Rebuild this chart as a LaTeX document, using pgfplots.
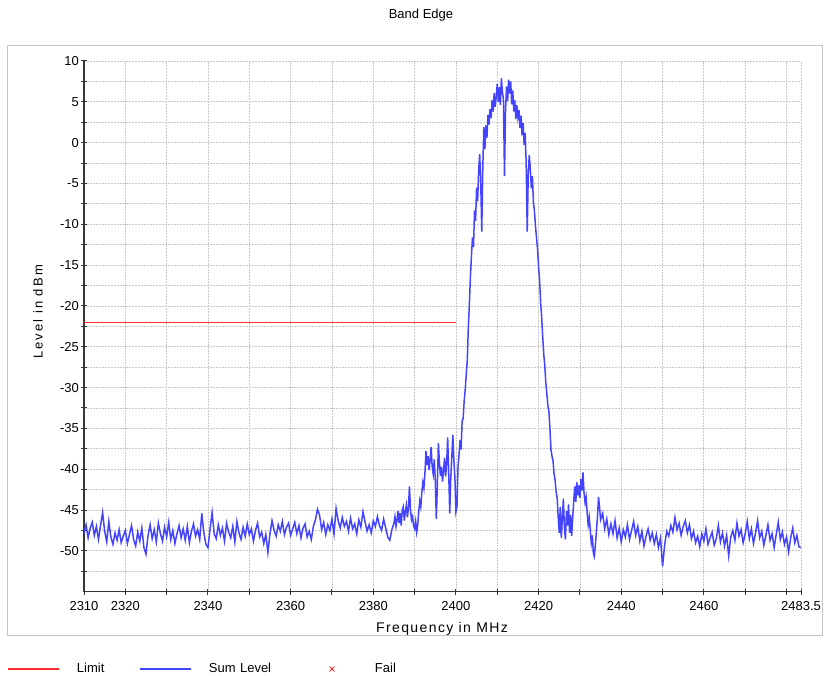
\documentclass[border=0pt]{standalone}
\usepackage{fontspec}
\setmainfont{Liberation Sans}
\usepackage{pgfplots}
\pgfplotsset{compat=1.18}
\definecolor{sumblue}{RGB}{68,68,255}
\definecolor{limred}{RGB}{255,45,45}
\definecolor{axisgray}{RGB}{55,55,55}
\definecolor{gridgray}{RGB}{200,200,200}
\definecolor{framegray}{RGB}{196,196,196}
\newcommand{\lblfont}{\fontsize{13bp}{15bp}\selectfont}
\begin{document}
\begin{tikzpicture}
\useasboundingbox (0,0) rectangle (825bp,676bp);
\draw[framegray, line width=1bp] (7bp,40bp) rectangle (822bp,630bp);
\begin{axis}[
  at={(84bp,84.3bp)}, anchor=south west,
  scale only axis, width=717bp, height=530.7bp,
  xmin=2310, xmax=2483.5, ymin=-55, ymax=10,
  axis x line*=bottom, axis y line*=left,
  axis line style={axisgray, line width=1.2bp},
  tick align=center,
  major tick length=6bp, minor tick length=6bp,
  tick style={axisgray, line width=1bp},
  xtick={2310,2320,2330,2340,2350,2360,2370,2380,2390,2400,2410,2420,2430,2440,2450,2460,2470,2480,2483.5},
  xticklabels={2310,2320,,2340,,2360,,2380,,2400,,2420,,2440,,2460,,,2483.5},
  ytick={-50,-45,-40,-35,-30,-25,-20,-15,-10,-5,0,5,10},
  minor ytick={-52.5,-47.5,-42.5,-37.5,-32.5,-27.5,-22.5,-17.5,-12.5,-7.5,-2.5,2.5,7.5},
  xmajorgrids, ymajorgrids, yminorgrids,
  major grid style={gridgray, dash pattern=on 1.5bp off 1.5bp, line width=0.8bp},
  minor grid style={gridgray, dash pattern=on 1.5bp off 1.5bp, line width=0.8bp},
  /pgf/number format/assume math mode=true,
  ticklabel style={font=\lblfont, text=black},
  xticklabel style={inner sep=0pt, anchor=north, yshift=-7bp},
  yticklabel style={inner sep=0pt, anchor=east, xshift=-2bp},
  title={Band Edge},
  title style={at={(0.470,1.0748)}, anchor=center, inner sep=0pt, yshift=0pt, font=\lblfont},
  xlabel={\addfontfeature{LetterSpace=10}Frequency in MHz},
  xlabel style={at={(0.4993,-0.0778)}, anchor=base, inner sep=0pt, font=\fontsize{14bp}{16bp}\selectfont},
  ylabel={\addfontfeature{LetterSpace=16}Level in dBm},
  ylabel style={at={(-0.0642,0.527)}, anchor=center, inner sep=0pt, rotate=0, font=\lblfont},
  legend columns=3,
  legend style={draw=none, fill=none, inner sep=0pt, at={(-0.10739,-0.14566)}, anchor=west,
    font=\lblfont, nodes={inner sep=0pt, align=left},
    /tikz/every odd column/.style={column sep=17.5bp}},
  legend image code/.code={\draw[#1] (0bp,0bp) -- (51bp,0bp);},
]
\addplot[limred, line width=1.3bp] coordinates {(2310,-22) (2400,-22)};
\addlegendentry[text width=62bp]{Limit}
\addplot[sumblue, line width=1.5bp] table {
2310.0 -47.9
2310.5 -46.8
2311.0 -48.4
2311.5 -47.2
2312.0 -46.5
2312.5 -48.1
2313.0 -47.0
2313.5 -48.6
2314.0 -46.9
2314.5 -45.3
2315.0 -47.6
2315.5 -48.9
2316.0 -46.4
2316.5 -48.3
2317.0 -49.2
2317.5 -47.8
2318.0 -48.7
2318.5 -47.4
2319.0 -49.0
2319.5 -48.2
2320.0 -47.5
2320.5 -49.1
2321.0 -48.0
2321.5 -46.9
2322.0 -48.6
2322.5 -49.4
2323.0 -47.7
2323.5 -48.8
2324.0 -47.2
2324.5 -49.6
2325.0 -50.4
2325.5 -48.1
2326.0 -46.8
2326.5 -48.5
2327.0 -47.4
2327.5 -48.9
2328.0 -46.6
2328.5 -47.9
2329.0 -48.8
2329.5 -47.1
2330.0 -48.3
2330.5 -46.5
2331.0 -48.6
2331.5 -47.5
2332.0 -49.1
2332.5 -47.9
2333.0 -46.9
2333.5 -48.4
2334.0 -47.3
2334.5 -48.7
2335.0 -47.0
2335.5 -49.0
2336.0 -47.6
2336.5 -46.7
2337.0 -48.2
2337.5 -47.4
2338.0 -48.6
2338.5 -45.4
2339.0 -47.8
2339.5 -49.2
2340.0 -49.6
2340.5 -47.3
2341.0 -45.3
2341.5 -47.9
2342.0 -48.5
2342.5 -46.8
2343.0 -48.1
2343.5 -47.2
2344.0 -48.8
2344.5 -46.6
2345.0 -47.7
2345.5 -48.4
2346.0 -47.0
2346.5 -48.9
2347.0 -46.4
2347.5 -47.8
2348.0 -48.6
2348.5 -47.1
2349.0 -48.2
2349.5 -46.7
2350.0 -48.0
2350.5 -47.3
2351.0 -48.8
2351.5 -47.5
2352.0 -46.6
2352.5 -48.3
2353.0 -47.7
2353.5 -49.1
2354.0 -48.0
2354.5 -50.2
2355.0 -47.9
2355.5 -46.3
2356.0 -47.5
2356.5 -48.2
2357.0 -46.8
2357.5 -47.6
2358.0 -46.4
2358.5 -48.0
2359.0 -47.1
2359.5 -46.6
2360.0 -48.1
2360.5 -47.3
2361.0 -46.5
2361.5 -47.9
2362.0 -46.9
2362.5 -48.4
2363.0 -47.2
2363.5 -46.7
2364.0 -48.3
2364.5 -47.6
2365.0 -48.6
2365.5 -47.0
2366.0 -46.2
2366.5 -44.9
2367.0 -45.6
2367.5 -47.4
2368.0 -46.5
2368.5 -48.0
2369.0 -46.8
2369.5 -47.5
2370.0 -46.1
2370.5 -47.9
2371.0 -44.8
2371.5 -46.3
2372.0 -47.2
2372.5 -45.9
2373.0 -47.0
2373.5 -46.4
2374.0 -47.6
2374.5 -46.0
2375.0 -47.3
2375.5 -46.7
2376.0 -47.9
2376.5 -46.2
2377.0 -47.1
2377.5 -45.2
2378.0 -46.4
2378.5 -47.6
2379.0 -46.8
2379.5 -47.8
2380.0 -46.3
2380.5 -47.0
2381.0 -45.8
2381.5 -46.9
2382.0 -47.5
2382.5 -46.1
2383.0 -47.2
2383.5 -48.3
2384.0 -48.7
2384.5 -47.4
2385.0 -46.6
2385.25 -45.8
2385.50 -47.0
2385.75 -46.2
2386.00 -45.1
2386.25 -46.6
2386.50 -45.4
2386.75 -46.9
2387.00 -45.0
2387.25 -44.6
2387.50 -46.3
2387.75 -45.2
2388.00 -44.4
2388.25 -45.9
2388.50 -44.8
2388.75 -42.1
2389.00 -44.9
2389.25 -46.2
2389.50 -45.8
2389.75 -46.9
2390.00 -47.3
2390.25 -46.4
2390.50 -47.7
2390.75 -46.8
2391.00 -45.2
2391.25 -43.9
2391.50 -44.6
2391.75 -42.8
2392.00 -41.6
2392.25 -42.3
2392.50 -40.5
2392.75 -37.8
2393.00 -39.5
2393.25 -38.4
2393.50 -40.1
2393.75 -38.9
2394.00 -37.3
2394.25 -39.7
2394.50 -40.6
2394.75 -38.8
2395.00 -41.3
2395.25 -46.1
2395.50 -42.0
2395.75 -36.8
2396.00 -39.2
2396.25 -40.8
2396.50 -39.7
2396.75 -41.5
2397.00 -40.2
2397.25 -38.6
2397.50 -40.9
2397.75 -39.4
2398.00 -36.1
2398.25 -40.3
2398.50 -45.4
2398.75 -41.2
2399.00 -38.5
2399.25 -35.8
2399.50 -38.9
2399.75 -41.0
2400.00 -45.2
2400.25 -44.6
2400.50 -39.7
2400.75 -38.2
2401.00 -36.4
2401.25 -37.6
2401.50 -34.1
2401.75 -33.8
2402.00 -31.6
2402.25 -30.2
2402.50 -28.4
2402.75 -26.6
2403.00 -22.6
2403.25 -19.8
2403.50 -16.5
2403.75 -13.9
2404.00 -11.6
2404.25 -12.8
2404.50 -8.3
2404.75 -9.6
2405.00 -5.5
2405.25 -7.2
2405.50 -3.4
2405.75 -1.4
2406.00 -4.8
2406.25 -10.9
2406.50 -3.1
2406.75 1.9
2407.00 -0.8
2407.25 2.1
2407.50 0.6
2407.75 3.4
2408.00 2.2
2408.25 4.1
2408.50 3.0
2408.75 5.2
2409.00 3.8
2409.25 6.1
2409.50 4.4
2409.75 5.6
2410.00 7.2
2410.25 5.0
2410.50 6.8
2410.75 4.6
2411.00 7.9
2411.25 6.2
2411.50 5.3
2411.75 -4.1
2412.00 3.9
2412.25 6.9
2412.50 5.1
2412.75 7.7
2413.00 6.0
2413.25 7.5
2413.50 4.7
2413.75 6.4
2414.00 3.8
2414.25 5.2
2414.50 2.9
2414.75 4.6
2415.00 3.1
2415.25 4.0
2415.50 1.8
2415.75 3.3
2416.00 0.9
2416.25 2.4
2416.50 -0.3
2416.75 1.2
2417.00 -2.6
2417.25 -10.9
2417.50 -3.8
2417.75 -1.5
2418.00 -3.2
2418.25 -5.6
2418.50 -4.1
2418.75 -7.3
2419.00 -8.4
2419.25 -10.2
2419.50 -11.7
2419.75 -13.0
2420.00 -15.2
2420.25 -16.9
2420.50 -19.6
2420.75 -21.4
2421.00 -23.8
2421.25 -25.9
2421.50 -27.3
2421.75 -29.4
2422.00 -30.8
2422.25 -32.2
2422.50 -32.9
2422.75 -35.1
2423.00 -37.6
2423.25 -38.4
2423.50 -39.0
2423.75 -40.6
2424.00 -41.3
2424.25 -42.8
2424.50 -43.5
2424.75 -45.9
2425.00 -47.8
2425.25 -44.6
2425.50 -48.4
2425.75 -46.1
2426.00 -43.6
2426.25 -47.2
2426.50 -48.6
2426.75 -45.1
2427.00 -46.9
2427.25 -44.3
2427.50 -47.8
2427.75 -45.6
2428.00 -48.2
2428.25 -46.0
2428.50 -43.9
2428.75 -42.1
2429.00 -44.0
2429.25 -41.6
2429.50 -43.2
2429.75 -42.0
2430.00 -43.5
2430.25 -41.2
2430.50 -42.6
2430.75 -40.4
2431.00 -42.9
2431.25 -44.1
2431.50 -43.4
2431.75 -45.3
2432.00 -46.8
2432.25 -45.9
2432.50 -47.4
2432.75 -49.0
2433.00 -48.1
2433.25 -50.3
2433.50 -50.7
2433.75 -49.2
2434.00 -47.6
2434.25 -45.8
2434.50 -43.4
2434.75 -44.6
2435.00 -46.2
2435.5 -45.4
2436.0 -47.3
2436.5 -46.1
2437.0 -48.0
2437.5 -46.7
2438.0 -47.9
2438.5 -46.3
2439.0 -48.4
2439.5 -47.2
2440.0 -48.9
2440.5 -47.4
2441.0 -48.3
2441.5 -46.8
2442.0 -48.6
2442.5 -47.5
2443.0 -46.4
2443.5 -48.1
2444.0 -47.0
2444.5 -48.8
2445.0 -47.6
2445.5 -49.4
2446.0 -48.2
2446.5 -47.3
2447.0 -48.7
2447.5 -47.8
2448.0 -49.1
2448.5 -48.0
2449.0 -49.6
2449.5 -48.4
2450.0 -51.9
2450.5 -49.3
2451.0 -47.6
2451.5 -48.2
2452.0 -46.9
2452.5 -47.7
2453.0 -45.9
2453.5 -47.4
2454.0 -46.6
2454.5 -48.1
2455.0 -47.0
2455.5 -46.3
2456.0 -47.8
2456.5 -46.8
2457.0 -48.5
2457.5 -47.6
2458.0 -49.0
2458.5 -48.2
2459.0 -49.5
2459.5 -47.9
2460.0 -48.8
2460.5 -47.3
2461.0 -49.2
2461.5 -48.4
2462.0 -47.7
2462.5 -49.3
2463.0 -48.5
2463.5 -46.9
2464.0 -48.9
2464.5 -47.8
2465.0 -49.4
2465.5 -48.1
2466.0 -50.6
2466.5 -48.3
2467.0 -47.5
2467.5 -48.7
2468.0 -46.6
2468.5 -48.2
2469.0 -47.4
2469.5 -49.0
2470.0 -47.9
2470.5 -46.4
2471.0 -48.5
2471.5 -47.3
2472.0 -49.1
2472.5 -47.8
2473.0 -46.3
2473.5 -48.4
2474.0 -47.6
2474.5 -49.3
2475.0 -48.1
2475.5 -46.8
2476.0 -48.7
2476.5 -47.9
2477.0 -49.6
2477.5 -48.0
2478.0 -46.5
2478.5 -48.6
2479.0 -47.7
2479.5 -49.2
2480.0 -48.3
2480.5 -50.1
2481.0 -48.4
2481.5 -47.2
2482.0 -49.0
2482.5 -48.1
2483.0 -49.5
2483.5 -49.6
};
\addlegendentry[text width=97.5bp]{Sum Level}
\addlegendimage{limred, only marks, mark=x, mark size=3.4bp, mark options={line width=1bp},
  legend image code/.code={\path[draw=none] (0bp,0bp) -- (51bp,0bp); \draw[draw=limred] plot[only marks] coordinates {(25.5bp,0bp)};}}
\addlegendentry{Fail}
\end{axis}
\end{tikzpicture}
\end{document}
